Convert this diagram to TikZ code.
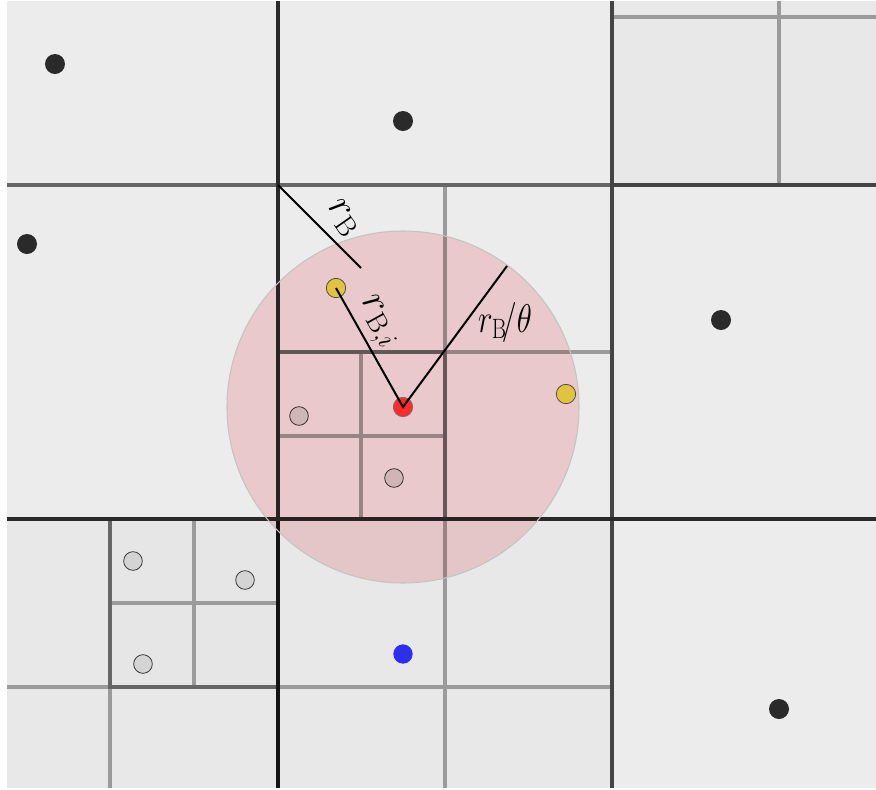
\documentclass[tikz,border=0pt]{standalone}
\usepackage{fix-cm}
\definecolor{bgA}{HTML}{ECECEC}
\definecolor{bgB}{HTML}{E8E8E8}
\definecolor{bgC}{HTML}{E6E6E6}
\definecolor{lnL}{HTML}{9B9B9B}
\definecolor{lnM}{HTML}{666666}
\definecolor{lnD}{HTML}{444444}
\definecolor{lnK}{HTML}{2A2A2A}
\definecolor{lnX}{HTML}{141414}
\definecolor{dotK}{HTML}{2A2A2A}
\definecolor{dotY}{HTML}{E0C43E}
\definecolor{dotR}{HTML}{FF2A2A}
\definecolor{dotB}{HTML}{2E2EF0}
\definecolor{dotG}{HTML}{D4D4D4}
\definecolor{pinkC}{HTML}{FCDADC}
\definecolor{rimC}{HTML}{C4C4C4}
\tikzset{
  gl/.style={line width=3pt},
  lightln/.style={gl, draw=lnL},
  midln/.style={gl, draw=lnM},
  darkln/.style={gl, draw=lnD},
  blackln/.style={gl, draw=lnK},
  pt/.style={circle, inner sep=0pt, minimum size=15pt},
  blackdot/.style={pt, fill=dotK},
  yellowdot/.style={pt, fill=dotY, draw=black!70, line width=0.6pt, minimum size=14.5pt},
  reddot/.style={pt, fill=dotR, draw=black!55, line width=0.6pt, minimum size=14.5pt},
  bluedot/.style={pt, fill=dotB, minimum size=14.5pt},
  graydot/.style={pt, fill=dotG, draw=black!80, line width=0.6pt, minimum size=14pt},
  radius line/.style={line width=1.5pt, draw=black},
  lbl/.style={inner sep=0pt, font=\fontsize{30}{34}\selectfont}
}
\begin{document}
\begin{tikzpicture}[x=0.75pt,y=-0.75pt]
\useasboundingbox (0,0) rectangle (876,790);
% background and cell shades
\fill[white] (0,0) rectangle (876,790);
\fill[bgA] (7,1) rectangle (876,788);
\fill[bgB] (612,1) rectangle (876,185);
\fill[bgB] (278,519) rectangle (612,788);
\fill[bgB] (7,519) rectangle (278,788);
\fill[bgC] (110,519) rectangle (278,687);
% light subdivision lines
\draw[lightln] (612,17) -- (876,17);
\draw[lightln] (779,1) -- (779,185);
\draw[lightln] (445,185) -- (445,352);
\draw[lightln] (445,352) -- (612,352);
\draw[lightln] (361,352) -- (361,519);
\draw[lightln] (278,436) -- (445,436);
\draw[lightln] (445,519) -- (445,788);
\draw[lightln] (278,687) -- (612,687);
\draw[lightln] (7,687) -- (110,687);
\draw[lightln] (110,687) -- (110,788);
\draw[lightln] (194,519) -- (194,687);
\draw[lightln] (110,603) -- (278,603);
% medium lines
\draw[midln] (278,352) -- (445,352) -- (445,519);
\draw[midln] (110,519) -- (110,687) -- (278,687);
\draw[midln] (7,185) -- (612,185);
% dark lines
\draw[darkln] (612,185) -- (876,185);
\draw[darkln] (612,1) -- (612,788);
\draw[blackln] (278,1) -- (278,519);
\draw[gl, draw=lnX] (278,519) -- (278,788);
\draw[gl, draw=lnK] (7,519) -- (876,519);
% gray points (under the circle)
\node[graydot] (g1) at (299,416) {};
\node[graydot] (g2) at (394,478) {};
\node[graydot] (g3) at (133,561) {};
\node[graydot] (g4) at (245,580) {};
\node[graydot] (g5) at (143,664) {};
% search circle
\begin{scope}[blend mode=multiply]
\fill[pinkC] (403,407) circle [radius=176];
\end{scope}
\draw[rimC, line width=0.8pt] (403,407) circle [radius=176];
% black points
\node[blackdot] (k1) at (55,64) {};
\node[blackdot] (k2) at (403,121) {};
\node[blackdot] (k3) at (27,244) {};
\node[blackdot] (k4) at (721,320) {};
\node[blackdot] (k5) at (779,709) {};
\node[bluedot] (bl) at (403,654) {};
% radius lines
\coordinate (corner) at (278,185);
\coordinate (rbEnd) at (361,268);
\coordinate (thEnd) at (507,266);
\coordinate (rc) at (403,407);
\draw[radius line] (corner) -- (rbEnd);
\node[yellowdot] (y1) at (336,288) {};
\node[yellowdot] (y2) at (566,394) {};
\node[reddot] (red) at (rc) {};
\draw[radius line] (y1.center) -- (red.center) -- (thEnd);
% labels
\node[lbl, rotate=-55] (lrb) at (343,218) {$r_{\mathrm{B}}$};
\node[lbl, rotate=-61] (lrbi) at (377,323) {$r_{\mathrm{B},i}$};
\node[lbl] (lrt) at (505,322) {\scalebox{0.78}[1]{$r_{\mathrm{B}}\!/\theta$}};
\end{tikzpicture}
\end{document}
